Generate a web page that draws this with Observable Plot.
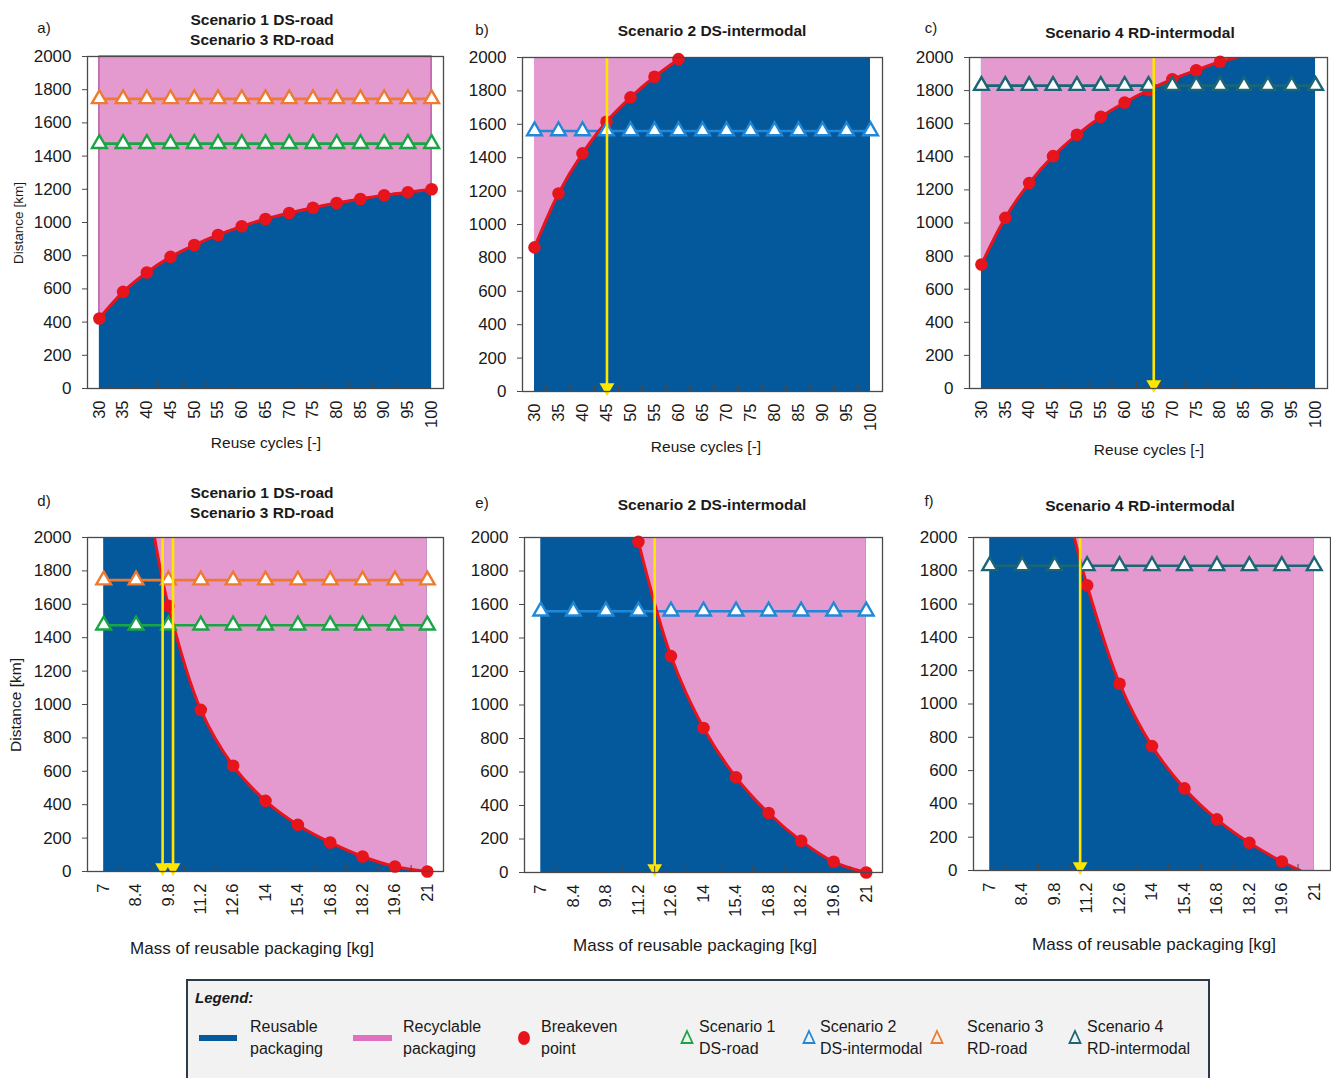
<!DOCTYPE html>
<html>
<head>
<meta charset="utf-8">
<script src="https://cdn.jsdelivr.net/npm/d3@7"></script>
<script src="https://cdn.jsdelivr.net/npm/@observablehq/plot@0.6"></script>
<style>
  html, body { margin: 0; padding: 0; background: #fff; }
  #root { position: relative; width: 1331px; height: 1078px; overflow: hidden; font-family: "Liberation Sans", Arial, sans-serif; color: #1a1a1a; }
  .abs { position: absolute; }
  .ctr { position: absolute; transform: translate(-50%, -50%); white-space: nowrap; }
  .title { font-weight: bold; font-size: 15.5px; text-align: center; line-height: 20px; }
  .letter { font-size: 15px; }
  .xlab { font-size: 15.5px; }
  .mlab { font-size: 17px; }
  .ylab { position: absolute; transform: translate(-50%, -50%) rotate(-90deg); white-space: nowrap; }
  #legend { position: absolute; left: 186px; top: 979px; width: 1024px; height: 110px; background: #f2f2f2; border: 2px solid #2c3b4c; box-sizing: border-box; }
</style>
</head>
<body>
<div id="root"></div>
<script>
// ---------- data ----------
const reuseCycles = [30, 35, 40, 45, 50, 55, 60, 65, 70, 75, 80, 85, 90, 95, 100];
const packagingMass = [7, 8.4, 9.8, 11.2, 12.6, 14, 15.4, 16.8, 18.2, 19.6, 21];
const distanceTicks = [0, 200, 400, 600, 800, 1000, 1200, 1400, 1600, 1800, 2000];
const distanceMax = 2000;

// scenario distances [km]
const scenario1DSroad = 1475;
const scenario2DSintermodal = 1560;
const scenario3RDroad = 1745;
const scenario4RDintermodal = 1830;

// breakeven distance vs reuse cycles
const breakevenA = [422, 582, 699, 793, 864, 925, 977, 1021, 1057, 1089, 1117, 1142, 1164, 1182, 1200];
const breakevenB = [863, 1186, 1426, 1615, 1761, 1885, 1990];              // 30..60
const breakevenC = [749, 1031, 1241, 1404, 1533, 1641, 1728, 1803, 1869, 1923, 1974]; // 30..80
const curveTopC = [83.5, 2000];   // where breakeven curve leaves the chart

// breakeven distance vs mass of reusable packaging
const breakevenDmass = [9.8, 11.2, 12.6, 14, 15.4, 16.8, 18.2, 19.6, 21];
const breakevenD = [1591, 968, 633, 423, 279, 174, 90, 30, 0];
const curveTopD = [9.2, 2000];
const breakevenEmass = [11.2, 12.6, 14, 15.4, 16.8, 18.2, 19.6, 21];
const breakevenE = [1974, 1292, 863, 568, 355, 189, 64, 0];
const breakevenFmass = [11.2, 12.6, 14, 15.4, 16.8, 18.2, 19.6];
const breakevenF = [1713, 1122, 747, 493, 307, 166, 54];
const curveTopF = [10.65, 2000];
const curveEndF = [20.4, 0];

// breakeven markers (yellow arrows)
const arrowsB = [45.1];
const arrowsC = [66.1];
const arrowsD = [9.55, 10.0];
const arrowsE = [11.9];
const arrowsF = [10.9];

// ---------- styles ----------
const BLUE = "#03599c";
const PINK = "#e59acf";
const RED = "#e8141b";
const YELLOW = "#ffe600";
const C1 = "#1aa544";   // Scenario 1 DS-road
const C2 = "#1f88d8";   // Scenario 2 DS-intermodal
const C3 = "#ee7a30";   // Scenario 3 RD-road
const C4 = "#1b6676";   // Scenario 4 RD-intermodal

const root = document.getElementById("root");
const mids = arr => d3.pairs(arr).map(([a, b]) => (a + b) / 2);
const pts = (xs, ys) => xs.map((x, i) => ({x, y: ys[i]}));

function panel({left, top, width, height, margins, cats, xDomain, curvePts, dotPts, pinkPts, pinkStroke, scenarios, arrows}) {
  const [mt, mr, mb, ml] = margins;
  const marks = [
    Plot.areaY(cats, {x: d => d, y1: 0, y2: distanceMax, fill: BLUE}),
    Plot.areaY(pinkPts, {x: "x", y1: "y", y2: distanceMax, fill: PINK, curve: "catmull-rom",
      stroke: pinkStroke || "none", strokeWidth: 1.3}),
  ];
  for (const s of scenarios) {
    marks.push(Plot.lineY(cats, {x: d => d, y: () => s.value, stroke: s.color, strokeWidth: 2.6}));
  }
  marks.push(Plot.line(curvePts, {x: "x", y: "y", stroke: RED, strokeWidth: 3, curve: "catmull-rom", clip: true}));
  marks.push(Plot.dot(dotPts, {x: "x", y: "y", r: 6.3, fill: RED}));
  for (const s of scenarios) {
    marks.push(Plot.dot(cats, {x: d => d, y: () => s.value, symbol: "triangle", r: 5.5, fill: "white", stroke: s.color, strokeWidth: 2.4}));
  }
  if (arrows.length) {
    marks.push(Plot.ruleX(arrows, {x: d => d, y1: 0, y2: distanceMax, stroke: YELLOW, strokeWidth: 2.6}));
    marks.push(Plot.dot(arrows, {x: d => d, y: 0, symbol: "triangle", rotate: 180, r: 5.5, fill: YELLOW, dy: -4}));
  }
  marks.push(Plot.frame({stroke: "#4a4a4a", strokeWidth: 1.3}));
  marks.push(Plot.axisY({ticks: distanceTicks, tickSize: 5, tickPadding: 11, fontSize: 17, label: null, tickFormat: d => String(d), stroke: "#4a4a4a"}));
  marks.push(Plot.axisX({ticks: cats, tickSize: 0, tickPadding: 12, tickRotate: -90, fontSize: 16.5, label: null, tickFormat: d => String(d)}));
  marks.push(Plot.axisX({ticks: mids(cats), tickSize: -6, tickFormat: () => "", label: null, stroke: "#4a4a4a"}));

  const svg = Plot.plot({
    width, height,
    marginTop: mt, marginRight: mr, marginBottom: mb, marginLeft: ml,
    x: {domain: xDomain},
    y: {domain: [0, distanceMax]},
    style: {fontFamily: "Liberation Sans, Arial, sans-serif", color: "#1a1a1a", background: "transparent", overflow: "visible"},
    marks
  });
  svg.style.position = "absolute";
  svg.style.left = left + "px";
  svg.style.top = top + "px";
  root.appendChild(svg);
}

const reuseDomain = [reuseCycles[0] - 2.5, reuseCycles.at(-1) + 2.5];
const massDomain = [packagingMass[0] - 0.7, packagingMass.at(-1) + 0.7];

// a)
const ptsA = pts(reuseCycles, breakevenA);
panel({left: 0, top: 0, width: 450, height: 460, margins: [56, 7, 72, 87],
  cats: reuseCycles, xDomain: reuseDomain, curvePts: ptsA, dotPts: ptsA, pinkPts: ptsA, pinkStroke: "#b950a4",
  scenarios: [{value: scenario3RDroad, color: C3}, {value: scenario1DSroad, color: C1}], arrows: []});
// b)
const ptsB = pts(reuseCycles.slice(0, breakevenB.length), breakevenB);
panel({left: 450, top: 0, width: 450, height: 460, margins: [57, 18, 69, 72],
  cats: reuseCycles, xDomain: reuseDomain, curvePts: ptsB, dotPts: ptsB, pinkPts: ptsB,
  scenarios: [{value: scenario2DSintermodal, color: C2}], arrows: arrowsB});
// c)
const ptsC = pts(reuseCycles.slice(0, breakevenC.length), breakevenC);
const lineC = [...ptsC, {x: curveTopC[0], y: curveTopC[1]}];
panel({left: 890, top: 0, width: 441, height: 460, margins: [57, 4, 72, 79],
  cats: reuseCycles, xDomain: reuseDomain, curvePts: lineC, dotPts: ptsC, pinkPts: lineC,
  scenarios: [{value: scenario4RDintermodal, color: C4}], arrows: arrowsC});
// d)
const ptsD = pts(breakevenDmass, breakevenD);
const lineD = [{x: curveTopD[0], y: curveTopD[1]}, ...ptsD];
panel({left: 0, top: 460, width: 450, height: 500, margins: [77, 7, 89, 87],
  cats: packagingMass, xDomain: massDomain, curvePts: lineD, dotPts: ptsD, pinkPts: lineD,
  scenarios: [{value: scenario3RDroad, color: C3}, {value: scenario1DSroad, color: C1}], arrows: arrowsD});
// e)
const ptsE = pts(breakevenEmass, breakevenE);
panel({left: 450, top: 460, width: 450, height: 500, margins: [77, 18, 88, 74],
  cats: packagingMass, xDomain: massDomain, curvePts: ptsE, dotPts: ptsE, pinkPts: ptsE,
  scenarios: [{value: scenario2DSintermodal, color: C2}], arrows: arrowsE});
// f)
const ptsF = pts(breakevenFmass, breakevenF);
const lineF = [{x: curveTopF[0], y: curveTopF[1]}, ...ptsF, {x: curveEndF[0], y: curveEndF[1]}];
const pinkF = [...lineF, {x: packagingMass.at(-1), y: 0}];
panel({left: 890, top: 460, width: 441, height: 500, margins: [77, 1, 90, 83],
  cats: packagingMass, xDomain: massDomain, curvePts: lineF, dotPts: ptsF, pinkPts: pinkF,
  scenarios: [{value: scenario4RDintermodal, color: C4}], arrows: arrowsF});

// ---------- texts ----------
function addText(cls, html, x, y, extra = "") {
  const d = document.createElement("div");
  d.className = cls;
  d.innerHTML = html;
  d.style.left = x + "px";
  d.style.top = y + "px";
  if (extra) d.style.cssText += extra;
  root.appendChild(d);
}
addText("ctr letter", "a)", 44, 27);
addText("ctr letter", "b)", 482, 29);
addText("ctr letter", "c)", 931, 27);
addText("ctr letter", "d)", 44, 500);
addText("ctr letter", "e)", 482, 502);
addText("ctr letter", "f)", 929, 500);

addText("ctr title", "Scenario 1 DS-road<br>Scenario 3 RD-road", 262, 30);
addText("ctr title", "Scenario 2 DS-intermodal", 712, 31);
addText("ctr title", "Scenario 4 RD-intermodal", 1140, 33);
addText("ctr title", "Scenario 1 DS-road<br>Scenario 3 RD-road", 262, 503);
addText("ctr title", "Scenario 2 DS-intermodal", 712, 505);
addText("ctr title", "Scenario 4 RD-intermodal", 1140, 506);

addText("ctr xlab", "Reuse cycles [-]", 266, 443);
addText("ctr xlab", "Reuse cycles [-]", 706, 447);
addText("ctr xlab", "Reuse cycles [-]", 1149, 450);
addText("ctr mlab", "Mass of reusable packaging [kg]", 252, 949);
addText("ctr mlab", "Mass of reusable packaging [kg]", 695, 946);
addText("ctr mlab", "Mass of reusable packaging [kg]", 1154, 945);

addText("ylab", "Distance [km]", 18, 223, "font-size:13.5px;");
addText("ylab", "Distance [km]", 16, 705, "font-size:15.5px;");

// ---------- legend ----------
const legend = document.createElement("div");
legend.id = "legend";
root.appendChild(legend);
function lg(html, x, y, extra = "") {
  const d = document.createElement("div");
  d.className = "abs";
  d.innerHTML = html;
  d.style.left = (x - 186) + "px";
  d.style.top = (y - 979) + "px";
  if (extra) d.style.cssText += extra;
  legend.appendChild(d);
}
lg("<b><i>Legend:</i></b>", 193, 987, "font-size:15px;");
const tri = c => `<svg width="14" height="16"><path d="M7 2 L12.5 14 L1.5 14 Z" fill="none" stroke="${c}" stroke-width="1.8"/></svg>`;
lg(`<div style="width:38px;height:6px;background:${BLUE}"></div>`, 197, 1033);
lg(`<div style="width:39px;height:6px;background:#e070c0"></div>`, 351, 1033);
lg(`<svg width="14" height="16"><ellipse cx="7" cy="8" rx="6" ry="7" fill="${RED}"/></svg>`, 515, 1028);
lg(tri(C1), 678, 1027);
lg(tri(C2), 800, 1027);
lg(tri(C3), 928, 1027);
lg(tri(C4), 1066, 1027);
const ltexts = [["Reusable<br>packaging", 248], ["Recyclable<br>packaging", 401], ["Breakeven<br>point", 539],
  ["Scenario 1<br>DS-road", 697], ["Scenario 2<br>DS-intermodal", 818], ["Scenario 3<br>RD-road", 965], ["Scenario 4<br>RD-intermodal", 1085]];
for (const [t, x] of ltexts) lg(t, x, 1014, "font-size:16px;line-height:22px;white-space:nowrap;");
</script>
</body>
</html>
